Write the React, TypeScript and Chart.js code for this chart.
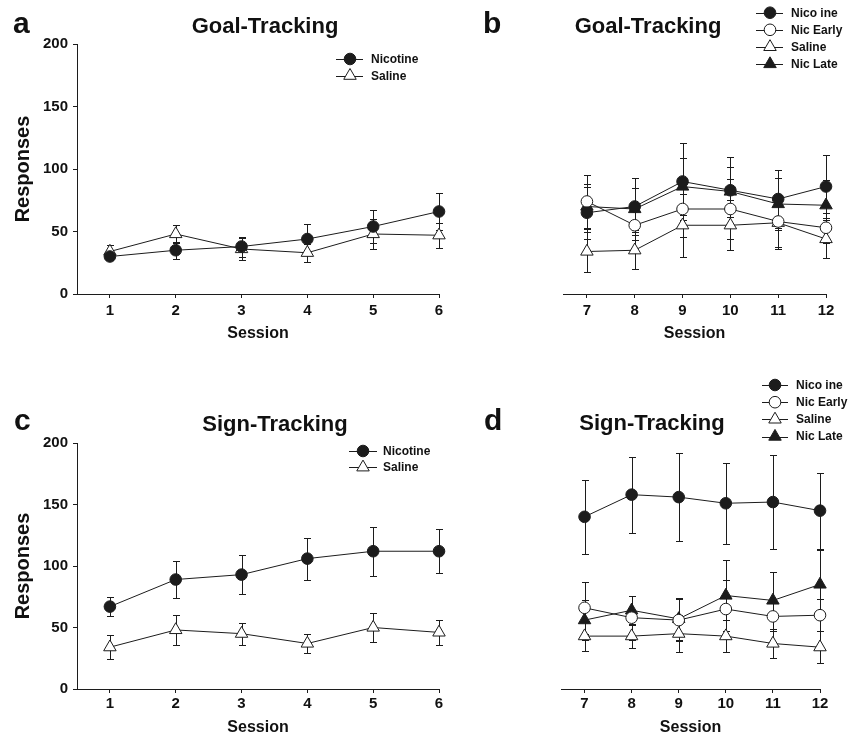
import React, { useEffect, useRef } from 'react';
import { Chart, registerables } from 'chart.js';

Chart.register(...registerables);

const FONT = "'Liberation Sans', Arial, Helvetica, sans-serif";
const INK = '#1c1c1c';

// ---------- data ----------
const sessionsEarly = [1, 2, 3, 4, 5, 6];
const sessionsLate = [7, 8, 9, 10, 11, 12];
const yTickValues = [0, 50, 100, 150, 200];

// Panel a: Goal-Tracking, sessions 1-6
const goalNicotineA = [30, 35, 38, 44, 54, 66];
const goalNicotineAErr = [3, 7, 8, 12, 13, 15];
const goalSalineA = [34, 48, 36, 33, 48, 47];
const goalSalineAErr = [5, 7, 9, 7, 12, 10];

// Panel b: Goal-Tracking, sessions 7-12
const goalNicotineB = [65, 70, 90, 83, 76, 86];
const goalNicotineBErr = [21, 23, 31, 27, 23, 25];
const goalNicEarlyB = [74, 55, 68, 68, 58, 53];
const goalNicEarlyBErr = [21, 12, 22, 24, 20, 12];
const goalSalineB = [34, 35, 55, 55, 57, 44];
const goalSalineBErr = [16, 15, 25, 20, 21, 15];
const goalNicLateB = [70, 68, 86, 82, 72, 71];
const goalNicLateBErr = [18, 17, 23, 20, 21, 20];

// Panel c: Sign-Tracking, sessions 1-6
const signNicotineA = [67, 89, 93, 106, 112, 112];
const signNicotineAErr = [8, 15, 16, 17, 20, 18];
const signSalineA = [34, 48, 45, 37, 50, 46];
const signSalineAErr = [10, 12, 9, 8, 12, 10];

// Panel d: Sign-Tracking, sessions 7-12
const signNicotineB = [140, 158, 156, 151, 152, 145];
const signNicotineBErr = [30, 31, 36, 33, 38, 31];
const signNicEarlyB = [66, 58, 56, 65, 59, 60];
const signNicEarlyBErr = [21, 18, 17, 24, 12, 13];
const signSalineB = [43, 43, 45, 43, 37, 34];
const signSalineBErr = [12, 10, 15, 13, 12, 13];
const signNicLateB = [56, 64, 57, 76, 72, 85];
const signNicLateBErr = [16, 12, 17, 29, 23, 28];

// ---------- styles ----------
type Shape = 'circle' | 'triangle';
interface SeriesDef {
  label: string;
  values: number[];
  errors: number[];
  shape: Shape;
  filled: boolean;
}

const markerRadius = (shape: Shape) => (shape === 'circle' ? 5.8 : 7.2);

// ---------- plugins ----------
const errorBarPlugin = {
  id: 'errorBars',
  beforeDatasetsDraw(chart: any) {
    const ctx = chart.ctx;
    const ys = chart.scales.y;
    chart.data.datasets.forEach((ds: any, di: number) => {
      const errs: number[] | undefined = ds.errors;
      if (!errs) return;
      const meta = chart.getDatasetMeta(di);
      ctx.save();
      ctx.strokeStyle = INK;
      ctx.lineWidth = 1;
      meta.data.forEach((pt: any, i: number) => {
        const v = ds.data[i].y;
        const e = errs[i];
        const x = Math.round(pt.x) + 0.5;
        const top = Math.round(ys.getPixelForValue(v + e)) + 0.5;
        const bot = Math.round(ys.getPixelForValue(v - e)) + 0.5;
        ctx.beginPath();
        ctx.moveTo(x, top);
        ctx.lineTo(x, bot);
        ctx.moveTo(x - 3.5, top);
        ctx.lineTo(x + 3.5, top);
        ctx.moveTo(x - 3.5, bot);
        ctx.lineTo(x + 3.5, bot);
        ctx.stroke();
      });
      ctx.restore();
    });
  },
};

function drawMarker(ctx: CanvasRenderingContext2D, shape: Shape, filled: boolean, x: number, y: number) {
  const r = markerRadius(shape);
  ctx.beginPath();
  if (shape === 'circle') {
    ctx.arc(x, y, r, 0, Math.PI * 2);
  } else {
    for (let k = 0; k < 3; k++) {
      const a = (k * 2 * Math.PI) / 3;
      const px = x + Math.sin(a) * r;
      const py = y - Math.cos(a) * r;
      if (k === 0) ctx.moveTo(px, py);
      else ctx.lineTo(px, py);
    }
    ctx.closePath();
  }
  ctx.fillStyle = filled ? INK : '#ffffff';
  ctx.fill();
  ctx.strokeStyle = INK;
  ctx.lineWidth = 1;
  ctx.stroke();
}

const seriesLegendPlugin = {
  id: 'seriesLegend',
  afterDraw(chart: any, _args: any, opts: any) {
    if (!opts || opts.x0 === undefined) return;
    const ctx: CanvasRenderingContext2D = chart.ctx;
    ctx.save();
    chart.data.datasets.forEach((ds: any, i: number) => {
      const y = opts.y0 + i * opts.dy;
      ctx.strokeStyle = INK;
      ctx.lineWidth = 1;
      ctx.beginPath();
      ctx.moveTo(opts.x0, Math.round(y) + 0.5);
      ctx.lineTo(opts.x1, Math.round(y) + 0.5);
      ctx.stroke();
      drawMarker(ctx, ds.shape, ds.filled, opts.mx, y);
      ctx.fillStyle = '#111';
      ctx.font = `bold ${opts.size}px ${FONT}`;
      ctx.textAlign = 'left';
      ctx.textBaseline = 'middle';
      ctx.fillText(ds.label, opts.tx, y + 0.5);
    });
    ctx.restore();
  },
};

const panelTextPlugin = {
  id: 'panelText',
  afterDraw(chart: any, _args: any, opts: any) {
    if (!opts || !opts.items) return;
    const ctx: CanvasRenderingContext2D = chart.ctx;
    ctx.save();
    ctx.fillStyle = '#111';
    ctx.textBaseline = 'alphabetic';
    opts.items.forEach((it: any) => {
      ctx.font = `bold ${it.size}px ${FONT}`;
      ctx.textAlign = it.align;
      ctx.fillText(it.text, it.x, it.y);
    });
    ctx.restore();
  },
};

// ---------- panels ----------
interface PanelDef {
  key: string;
  left: number;
  top: number;
  width: number;
  height: number;
  padding: { left: number; right: number; top: number; bottom: number };
  sessions: number[];
  xMin: number;
  xMax: number;
  showY: boolean;
  xAxisHeight: number;
  xTickPad: number;
  xTitlePad: number;
  series: SeriesDef[];
  legend: any;
  texts: any[];
}

const panels: PanelDef[] = [
  {
    key: 'a',
    left: 0,
    top: 0,
    width: 460,
    height: 350,
    padding: { left: 0, right: 21, top: 44, bottom: 0 },
    sessions: sessionsEarly,
    xMin: 0.5,
    xMax: 6,
    showY: true,
    xAxisHeight: 56,
    xTickPad: 4,
    xTitlePad: 8,
    series: [
      { label: 'Nicotine', values: goalNicotineA, errors: goalNicotineAErr, shape: 'circle', filled: true },
      { label: 'Saline', values: goalSalineA, errors: goalSalineAErr, shape: 'triangle', filled: false },
    ],
    legend: { x0: 336, x1: 363, mx: 350, tx: 371, y0: 59, dy: 16.7, size: 12 },
    texts: [
      { text: 'a', x: 13, y: 33, size: 30, align: 'left' },
      { text: 'Goal-Tracking', x: 265, y: 33, size: 22, align: 'center' },
    ],
  },
  {
    key: 'b',
    left: 460,
    top: 0,
    width: 388,
    height: 350,
    padding: { left: 26, right: 22, top: 44, bottom: 0 },
    sessions: sessionsLate,
    xMin: 6.5,
    xMax: 12,
    showY: false,
    xAxisHeight: 56,
    xTickPad: 4,
    xTitlePad: 8,
    series: [
      { label: 'Nico ine', values: goalNicotineB, errors: goalNicotineBErr, shape: 'circle', filled: true },
      { label: 'Nic Early', values: goalNicEarlyB, errors: goalNicEarlyBErr, shape: 'circle', filled: false },
      { label: 'Saline', values: goalSalineB, errors: goalSalineBErr, shape: 'triangle', filled: false },
      { label: 'Nic Late', values: goalNicLateB, errors: goalNicLateBErr, shape: 'triangle', filled: true },
    ],
    legend: { x0: 296, x1: 323, mx: 310, tx: 331, y0: 12.7, dy: 17.1, size: 12 },
    texts: [
      { text: 'b', x: 23, y: 33, size: 30, align: 'left' },
      { text: 'Goal-Tracking', x: 188, y: 33, size: 22, align: 'center' },
    ],
  },
  {
    key: 'c',
    left: 0,
    top: 370,
    width: 460,
    height: 366,
    padding: { left: 0, right: 21, top: 73, bottom: 0 },
    sessions: sessionsEarly,
    xMin: 0.5,
    xMax: 6,
    showY: true,
    xAxisHeight: 47,
    xTickPad: 2,
    xTitlePad: 0,
    series: [
      { label: 'Nicotine', values: signNicotineA, errors: signNicotineAErr, shape: 'circle', filled: true },
      { label: 'Saline', values: signSalineA, errors: signSalineAErr, shape: 'triangle', filled: false },
    ],
    legend: { x0: 349, x1: 377, mx: 363, tx: 383, y0: 81, dy: 16.3, size: 12 },
    texts: [
      { text: 'c', x: 14, y: 60, size: 30, align: 'left' },
      { text: 'Sign-Tracking', x: 275, y: 60.5, size: 22, align: 'center' },
    ],
  },
  {
    key: 'd',
    left: 460,
    top: 370,
    width: 388,
    height: 366,
    padding: { left: 24, right: 28, top: 73, bottom: 0 },
    sessions: sessionsLate,
    xMin: 6.5,
    xMax: 12,
    showY: false,
    xAxisHeight: 47,
    xTickPad: 2,
    xTitlePad: 0,
    series: [
      { label: 'Nico ine', values: signNicotineB, errors: signNicotineBErr, shape: 'circle', filled: true },
      { label: 'Nic Early', values: signNicEarlyB, errors: signNicEarlyBErr, shape: 'circle', filled: false },
      { label: 'Saline', values: signSalineB, errors: signSalineBErr, shape: 'triangle', filled: false },
      { label: 'Nic Late', values: signNicLateB, errors: signNicLateBErr, shape: 'triangle', filled: true },
    ],
    legend: { x0: 302, x1: 328, mx: 315, tx: 336, y0: 15, dy: 17.2, size: 12 },
    texts: [
      { text: 'd', x: 24, y: 60, size: 30, align: 'left' },
      { text: 'Sign-Tracking', x: 192, y: 60, size: 22, align: 'center' },
    ],
  },
];

function buildConfig(p: PanelDef): any {
  return {
    type: 'line',
    data: {
      datasets: p.series.map((s) => ({
        label: s.label,
        data: p.sessions.map((x, i) => ({ x, y: s.values[i] })),
        errors: s.errors,
        shape: s.shape,
        filled: s.filled,
        borderColor: INK,
        borderWidth: 1,
        backgroundColor: s.filled ? INK : '#ffffff',
        pointBackgroundColor: s.filled ? INK : '#ffffff',
        pointBorderColor: INK,
        pointBorderWidth: 1,
        pointStyle: s.shape,
        pointRadius: markerRadius(s.shape),
        pointHoverRadius: markerRadius(s.shape),
        tension: 0,
        fill: false,
        clip: false,
      })),
    },
    options: {
      animation: false,
      responsive: false,
      maintainAspectRatio: false,
      events: [],
      layout: { padding: p.padding },
      plugins: {
        legend: { display: false },
        tooltip: { enabled: false },
        title: { display: false },
        seriesLegend: p.legend,
        panelText: { items: p.texts },
      },
      scales: {
        x: {
          type: 'linear',
          min: p.xMin,
          max: p.xMax,
          afterBuildTicks: (scale: any) => {
            scale.ticks = p.sessions.map((v) => ({ value: v }));
          },
          afterFit: (scale: any) => {
            scale.height = p.xAxisHeight;
          },
          grid: { drawOnChartArea: false, drawTicks: true, tickLength: 4, color: INK, lineWidth: 1 },
          border: { display: true, color: INK, width: 1 },
          ticks: {
            autoSkip: false,
            maxRotation: 0,
            padding: p.xTickPad,
            color: '#111',
            font: { family: FONT, size: 15, weight: 'bold' },
          },
          title: {
            display: true,
            text: 'Session',
            color: '#111',
            font: { family: FONT, size: 16, weight: 'bold', lineHeight: 1 },
            padding: { top: 0, bottom: p.xTitlePad },
          },
        },
        y: {
          type: 'linear',
          display: p.showY,
          min: 0,
          max: 200,
          afterBuildTicks: (scale: any) => {
            scale.ticks = yTickValues.map((v) => ({ value: v }));
          },
          afterFit: (scale: any) => {
            scale.width = 77;
          },
          grid: { drawOnChartArea: false, drawTicks: true, tickLength: 4, color: INK, lineWidth: 1 },
          border: { display: true, color: INK, width: 1 },
          ticks: {
            padding: 5,
            color: '#111',
            font: { family: FONT, size: 15, weight: 'bold' },
          },
          title: {
            display: true,
            text: 'Responses',
            color: '#111',
            font: { family: FONT, size: 20, weight: 'bold', lineHeight: 1 },
            padding: { top: 13, bottom: 0 },
          },
        },
      },
    },
    plugins: [errorBarPlugin, seriesLegendPlugin, panelTextPlugin],
  };
}

function Panel({ def }: { def: PanelDef }) {
  const ref = useRef<HTMLCanvasElement | null>(null);
  useEffect(() => {
    if (!ref.current) return;
    const chart = new Chart(ref.current, buildConfig(def));
    return () => chart.destroy();
  }, [def]);
  return (
    <canvas
      ref={ref}
      width={def.width}
      height={def.height}
      style={{ position: 'absolute', left: def.left, top: def.top, width: def.width, height: def.height }}
    />
  );
}

export default function App() {
  return (
    <div
      style={{
        position: 'absolute',
        left: 0,
        top: 0,
        width: 848,
        height: 736,
        background: '#ffffff',
        overflow: 'hidden',
      }}
    >
      {panels.map((p) => (
        <Panel key={p.key} def={p} />
      ))}
    </div>
  );
}
